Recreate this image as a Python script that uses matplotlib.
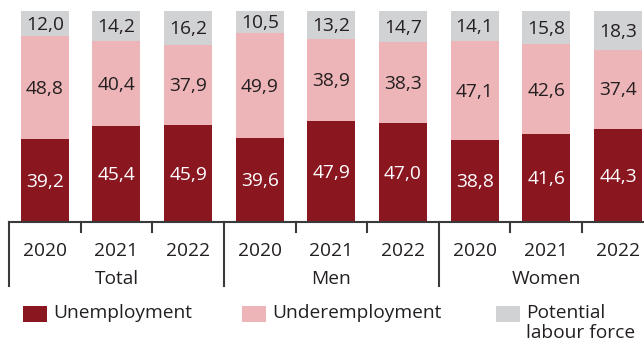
import matplotlib.pyplot as plt
from matplotlib.patches import Rectangle
from matplotlib.transforms import blended_transform_factory
import numpy as np

plt.rcParams['font.family'] = ['Open Sans', 'DejaVu Sans']

groups = ['Total', 'Men', 'Women']
years = ['2020', '2021', '2022']
unemployment = [39.2, 45.4, 45.9, 39.6, 47.9, 47.0, 38.8, 41.6, 44.3]
underemployment = [48.8, 40.4, 37.9, 49.9, 38.9, 38.3, 47.1, 42.6, 37.4]
potential = [12.0, 14.2, 16.2, 10.5, 13.2, 14.7, 14.1, 15.8, 18.3]
series_names = ['Unemployment', 'Underemployment', 'Potential\nlabour force']

colors = ['#8a1620', '#edb5b8', '#d1d2d4']
text_colors = ['white', '#231f20', '#231f20']
dark = '#231f20'
fs = 13.8

W, H = 644, 348
fig = plt.figure(figsize=(W / 100, H / 100), dpi=100)
ax = fig.add_axes([9 / W, (H - 222) / H, (W - 9) / W, 211 / H])

x = np.arange(len(unemployment))
bottom = np.zeros(len(x))
for vals, col, tcol in zip([unemployment, underemployment, potential], colors, text_colors):
    vals = np.array(vals)
    ax.bar(x, vals, bottom=bottom, width=0.67, color=col, linewidth=0)
    for xi, b, v in zip(x, bottom, vals):
        ax.text(xi, b + v / 2 - 0.6, f'{v:.1f}'.replace('.', ','), ha='center',
                va='center', fontsize=fs, color=tcol)
    bottom += vals

ax.set_xlim(-0.5, (W - 46) / 71.5)
ax.set_ylim(0, 100)
for s in ['top', 'right', 'left']:
    ax.spines[s].set_visible(False)
ax.spines['bottom'].set_color('#3a3a3a')
ax.spines['bottom'].set_linewidth(1.5)
ax.set_xticks([])
ax.set_yticks([])

trans = blended_transform_factory(ax.transData, ax.transAxes)
px = 1 / 211
# group separators and minor ticks below the axis
for g in range(len(groups) + 1):
    xs = g * 3 - 0.5
    ax.plot([xs, xs], [0, -64 * px], transform=trans, color='#3a3a3a', lw=1.5,
            clip_on=False)
    if g < len(groups):
        for k in (1, 2):
            ax.plot([xs + k, xs + k], [0, -10 * px], transform=trans, color='#3a3a3a',
                    lw=1.5, clip_on=False)
        ax.text(g * 3 + 1, -57 * px, groups[g], transform=trans, ha='center',
                va='center', fontsize=fs, color=dark)
for xi in x:
    ax.text(xi, -29 * px, years[xi % 3], transform=trans, ha='center', va='center',
            fontsize=fs, color=dark)

# legend
leg_x = [23, 242, 496]
for lx, col, name in zip(leg_x, colors, series_names):
    fig.add_artist(Rectangle((lx / W, (H - 322) / H), 24 / W, 16 / H, color=col,
                             transform=fig.transFigure, linewidth=0))
    fig.text((lx + 30) / W, (H - 304) / H, name, ha='left', va='top', fontsize=fs,
             color=dark, linespacing=1.15)

fig.savefig('out.png', dpi=100)
